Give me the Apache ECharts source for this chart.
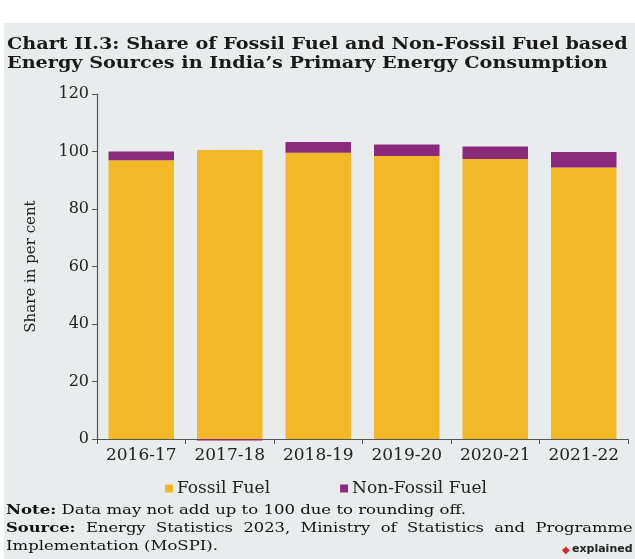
<!DOCTYPE html>
<html><head><meta charset="utf-8">
<script src="https://cdn.jsdelivr.net/npm/echarts@6/dist/echarts.min.js"></script>
<style>html,body{margin:0;padding:0;background:#fff}#c{width:635px;height:559px}</style>
</head><body><div id="c"></div>
<script>
const categories = ['2016-17','2017-18','2018-19','2019-20','2020-21','2021-22'];
const fossil = [97.0, 100.5, 99.6, 98.4, 97.4, 94.4];
const nonFossil = [3.0, -0.5, 3.7, 4.0, 4.3, 5.4];
const yTicks = [0, 20, 40, 60, 80, 100, 120];

const serif = '"DejaVu Serif", serif';
const chart = echarts.init(document.getElementById('c'));
const noteRich = {b:{font:'bold 13px '+serif, fill:'#111'}, n:{font:'13px '+serif, fill:'#111'}};
chart.setOption({
  backgroundColor: '#ffffff',
  animation: false,
  graphic: [
    {type:'rect', shape:{x:4,y:23,width:631,height:536}, style:{fill:'#e8ecec'}, z:-10},
    {type:'text', x:7, y:37, scaleX:1.2, scaleY:1, style:{text:'Chart II.3: Share of Fossil Fuel and Non-Fossil Fuel based', font:'bold 16px '+serif, fill:'#1a1a1a'}},
    {type:'text', x:7, y:56, scaleX:1.2, scaleY:1, style:{text:'Energy Sources in India\u2019s Primary Energy Consumption', font:'bold 16px '+serif, fill:'#1a1a1a'}},
    {type:'text', x:6, y:504, scaleX:1.27, scaleY:1, style:{rich:noteRich, text:'{b|Note:}{n| Data may not add up to 100 due to rounding off.}'}},
    {type:'text', x:6, y:522, scaleX:1.257, scaleY:1, style:{rich:noteRich, text:'{b|Source:}{n|  Energy  Statistics  2023,  Ministry  of  Statistics  and  Programme}'}},
    {type:'text', x:6, y:540, scaleX:1.27, scaleY:1, style:{text:'Implementation (MoSPI).', font:'13px '+serif, fill:'#111'}},
    {type:'text', x:562, y:545, style:{text:'\u25C6', font:'10px "DejaVu Sans", sans-serif', fill:'#d8262b'}},
    {type:'text', x:572, y:544, style:{text:'explained', font:'bold 11px "DejaVu Sans", sans-serif', fill:'#222'}}
  ],
  legend: {
    data: ['Fossil Fuel','Non-Fossil Fuel'],
    left: 160, top: 475, itemWidth: 8, itemHeight: 8, itemGap: 70, icon: 'rect',
    textStyle: {fontFamily: serif, fontSize: 17, color: '#222', padding: [0,0,0,-1]}
  },
  grid: {left: 97, right: 7, top: 94, bottom: 120, containLabel: false},
  xAxis: {
    type: 'category', data: categories,
    axisLine: {lineStyle: {color: '#555', width: 1.2}},
    axisTick: {show: true, alignWithLabel: false, interval: 0, length: 5, lineStyle: {color: '#555'}},
    axisLabel: {fontFamily: serif, fontSize: 17, color: '#222', margin: 8, interval: 0}
  },
  yAxis: {
    type: 'value', min: 0, max: 120, interval: 20,
    name: 'Share in per cent', nameLocation: 'middle', nameGap: 58, nameRotate: 90,
    nameTextStyle: {fontFamily: serif, fontSize: 15, color: '#222'},
    axisLine: {show: true, lineStyle: {color: '#555', width: 1.2}},
    axisTick: {show: true, length: 5, inside: false, lineStyle: {color: '#555'}},
    splitLine: {show: false},
    axisLabel: {fontFamily: serif, fontSize: 16, color: '#222', margin: 8,
      formatter: v => yTicks.includes(v) ? String(v) : ''}
  },
  series: [
    {name: 'Fossil Fuel', type: 'bar', stack: 'total', data: fossil, barCategoryGap: '26%',
     itemStyle: {color: '#f2b826'}},
    {name: 'Non-Fossil Fuel', type: 'bar', stack: 'total', data: nonFossil, clip: false,
     itemStyle: {color: '#8b2a7c'}}
  ]
});
</script></body></html>
